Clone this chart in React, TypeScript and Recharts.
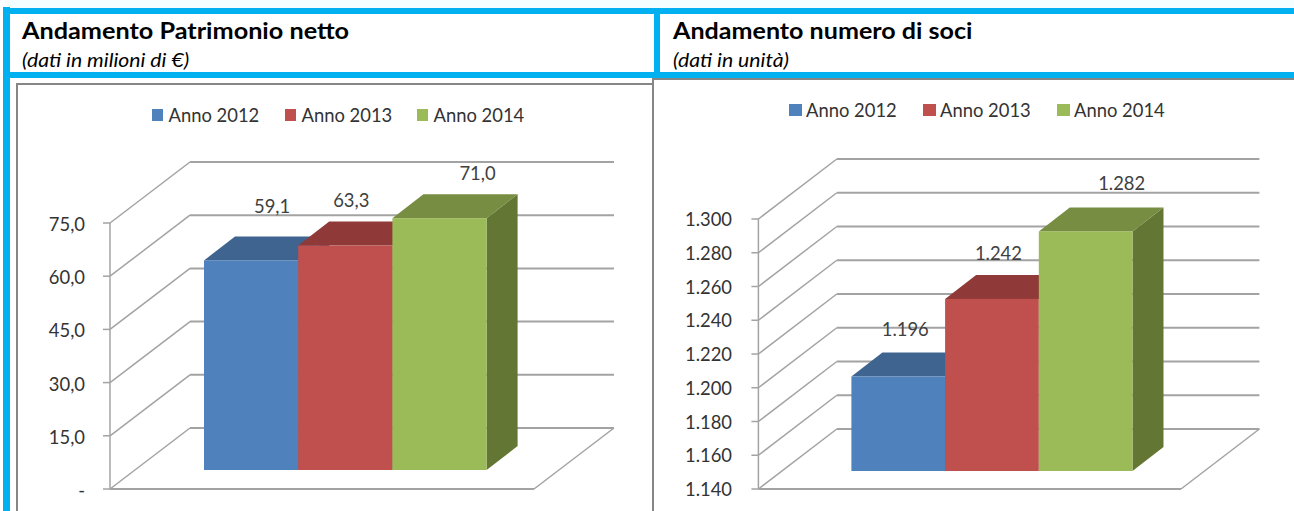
import { BarChart, Bar, XAxis, YAxis, CartesianGrid, Legend } from 'recharts'

const seriesNames = ['Anno 2012', 'Anno 2013', 'Anno 2014']
const frontColors = ['#4f81bd', '#c0504d', '#9bbb59']
const topColors = ['#3f6490', '#8f3a38', '#778e42']
const sideColors = ['#324f73', '#6f2c2a', '#647634']

const patrimonioValues = [59.1, 63.3, 71.0]
const patrimonioTicks = [0, 15, 30, 45, 60, 75]

const sociValues = [1196, 1242, 1282]
const sociTicks = [1140, 1160, 1180, 1200, 1220, 1240, 1260, 1280, 1300]

const BLUE = '#00b0f0'
const FRAME = '#868686'
const WALL = '#a3a3a3'
const FONT = 'Lato, "Noto Sans", sans-serif'

const DEPTH_X = 31
const DEPTH_Y = 24

function formatPatrimonio(v: number) {
  if (v === 0) return '-'
  return v.toFixed(1).replace('.', ',')
}

function formatSoci(v: number) {
  return String(v).replace(/\B(?=(\d{3})+$)/g, '.')
}

function Bar3D(props: any) {
  const { x, y, width, height, index } = props
  const s = props.seriesIndex
  const r = x + width
  return (
    <g key={index}>
      <polygon
        points={`${r},${y} ${r + DEPTH_X},${y - DEPTH_Y} ${r + DEPTH_X},${y + height - DEPTH_Y} ${r},${y + height}`}
        fill={sideColors[s]}
      />
      <polygon
        points={`${x},${y} ${x + DEPTH_X},${y - DEPTH_Y} ${r + DEPTH_X},${y - DEPTH_Y} ${r},${y}`}
        fill={topColors[s]}
      />
      <rect x={x} y={y} width={width} height={height} fill={frontColors[s]} />
    </g>
  )
}

function Heading({ left, title, note, titleStretch, noteStretch }: { left: number; title: string; note: string; titleStretch: number; noteStretch: number }) {
  const base = { position: 'absolute', left, color: '#000', whiteSpace: 'nowrap', transformOrigin: 'left center' } as const
  return (
    <>
      <div style={{ ...base, top: 17, fontSize: 22, fontWeight: 700, transform: `scaleX(${titleStretch})` }}>{title}</div>
      <div style={{ ...base, top: 48, fontSize: 19, fontStyle: 'italic', transform: `scaleX(${noteStretch})` }}>{note}</div>
    </>
  )
}

interface ChartProps {
  left: number
  top: number
  width: number
  height: number
  axisWidth: number
  margin: { top: number; right: number; bottom: number; left: number }
  values: number[]
  ticks: number[]
  format: (v: number) => string
  barSize: number
  wallX: number
  frontY: number
  backY: number
  endX: number
  labelNudge: [number, number][]
  labelRight: number
  labelDrop: number
  legendLeft: number
  legendTop: number
  legendGaps: number[]
  swatch: number
  swatchGap: number
}

function Chart3D(p: ChartProps) {
  const row: Record<string, number | string> = { name: 'soci' }
  seriesNames.forEach((n, i) => {
    row[n] = p.values[i]
  })
  const plotH = p.height - p.margin.top - p.margin.bottom
  const stepPx = plotH / (p.ticks.length - 1)

  const wallLine = (g: any) => {
    const atBottom = Math.abs(g.y1 - (p.margin.top + plotH)) < 0.5
    const fy = g.y1 + p.frontY
    const by = g.y1 + p.backY
    const bx = g.x1 + p.wallX
    const ex = g.x2 + p.endX
    return (
      <g key={g.key ?? g.index}>
        <line x1={g.x1} y1={fy} x2={bx} y2={by} stroke={WALL} strokeWidth={1.5} />
        <line x1={bx} y1={by} x2={ex} y2={by} stroke={WALL} strokeWidth={2} />
        {!atBottom && <line x1={g.x1} y1={fy} x2={g.x1} y2={fy + stepPx} stroke={WALL} strokeWidth={1.5} />}
        {atBottom && (
          <>
            <line x1={g.x1} y1={fy} x2={ex - p.wallX} y2={fy} stroke={WALL} strokeWidth={2} />
            <line x1={ex - p.wallX} y1={fy} x2={ex} y2={by} stroke={WALL} strokeWidth={1.5} />
          </>
        )}
      </g>
    )
  }

  const tick = (t: any) => {
    const y = t.y + p.frontY
    const plotLeft = p.margin.left + p.axisWidth
    return (
      <g>
        <line x1={plotLeft - 7} y1={y} x2={plotLeft} y2={y} stroke={WALL} strokeWidth={1.5} />
        <text x={p.labelRight} y={y + p.labelDrop} textAnchor="end" fontFamily={FONT} fontSize={18.4} fill="#333333">
          {p.format(t.payload.value)}
        </text>
      </g>
    )
  }

  // height 0 so the legend does not take room from the plot
  const legend = () => (
    <div style={{ position: 'relative', height: 0, fontFamily: FONT, fontSize: 18.4, color: '#333333' }}>
      {seriesNames.map((n, i) => (
        <div key={n} style={{ position: 'absolute', left: p.legendGaps[i], top: 0, whiteSpace: 'nowrap', display: 'flex', alignItems: 'center' }}>
          <span style={{ width: p.swatch, height: 12, background: frontColors[i], marginRight: p.swatchGap }} />
          {n}
        </div>
      ))}
    </div>
  )

  return (
    <div style={{ position: 'absolute', left: p.left, top: p.top }}>
      <BarChart
        width={p.width}
        height={p.height}
        data={[row]}
        margin={p.margin}
        barSize={p.barSize}
        barGap={0}
      >
        <CartesianGrid horizontal={wallLine} vertical={false} syncWithTicks />
        <XAxis dataKey="name" hide />
        <YAxis
          width={p.axisWidth}
          domain={[p.ticks[0], p.ticks[p.ticks.length - 1]]}
          ticks={p.ticks}
          interval={0}
          axisLine={false}
          tickLine={false}
          tick={tick}
        />
        <Legend
          content={legend}
          verticalAlign="top"
          wrapperStyle={{ left: p.legendLeft, top: p.legendTop, width: 500 }}
        />
        {seriesNames.map((n, i) => (
          <Bar
            key={n}
            dataKey={n}
            fill={frontColors[i]}
            isAnimationActive={false}
            shape={(b: any) => <Bar3D {...b} seriesIndex={i} />}
            label={(l: any) => (
              <text
                x={l.x + l.width / 2 + p.labelNudge[i][0]}
                y={l.y + p.labelNudge[i][1]}
                textAnchor="middle"
                fontFamily={FONT}
                fontSize={18.4}
                fill="#404040"
              >
                {p.format(l.value)}
              </text>
            )}
          />
        ))}
      </BarChart>
    </div>
  )
}

export default function App() {
  return (
    <div style={{ position: 'absolute', left: 0, top: 0, width: 1294, height: 511, overflow: 'hidden', background: '#fff', fontFamily: FONT }}>
      <div style={{ position: 'absolute', left: 7, top: 0, width: 1287, height: 8, background: '#f4fdff' }} />

      <div style={{ position: 'absolute', left: 3, top: 7, width: 7, height: 504, background: BLUE }} />
      <div style={{ position: 'absolute', left: 3, top: 8, width: 1291, height: 6, background: BLUE }} />
      <div style={{ position: 'absolute', left: 3, top: 72, width: 1291, height: 6, background: BLUE }} />
      <div style={{ position: 'absolute', left: 654, top: 8, width: 6, height: 70, background: BLUE }} />

      <Heading left={22} title="Andamento Patrimonio netto" note="(dati in milioni di €)" titleStretch={1.147} noteStretch={1.115} />
      <Heading left={673} title="Andamento numero di soci" note="(dati in unità)" titleStretch={1.14} noteStretch={1.115} />

      <div style={{ position: 'absolute', left: 16, top: 83, width: 636, height: 2, background: FRAME }} />
      <div style={{ position: 'absolute', left: 16, top: 83, width: 2, height: 428, background: FRAME }} />
      <div style={{ position: 'absolute', left: 652, top: 78, width: 642, height: 2, background: FRAME }} />
      <div style={{ position: 'absolute', left: 652, top: 78, width: 2, height: 433, background: FRAME }} />

      <Chart3D
        left={18}
        top={85}
        width={634}
        height={426}
        axisWidth={92}
        margin={{ top: 119, right: 71.9, bottom: 41, left: 0 }}
        values={patrimonioValues}
        ticks={patrimonioTicks}
        format={formatPatrimonio}
        barSize={94.2}
        wallX={80}
        frontY={19}
        backY={-42}
        endX={33.9}
        labelNudge={[[21, -47], [6, -38], [38, -38]]}
        labelRight={67}
        labelDrop={8}
        legendLeft={134}
        legendTop={19}
        legendGaps={[0, 133, 265]}
        swatch={11}
        swatchGap={5.5}
      />
      <Chart3D
        left={654}
        top={80}
        width={640}
        height={431}
        axisWidth={104.4}
        margin={{ top: 121, right: 67.6, bottom: 40, left: 0 }}
        values={sociValues}
        ticks={sociTicks}
        format={formatSoci}
        barSize={93.7}
        wallX={78.4}
        frontY={18}
        backY={-42}
        endX={33}
        labelNudge={[[7, -41], [6.5, -39], [36, -41]]}
        labelRight={78}
        labelDrop={7}
        legendLeft={135}
        legendTop={19}
        legendGaps={[0, 134, 268]}
        swatch={13}
        swatchGap={4}
      />
    </div>
  )
}
